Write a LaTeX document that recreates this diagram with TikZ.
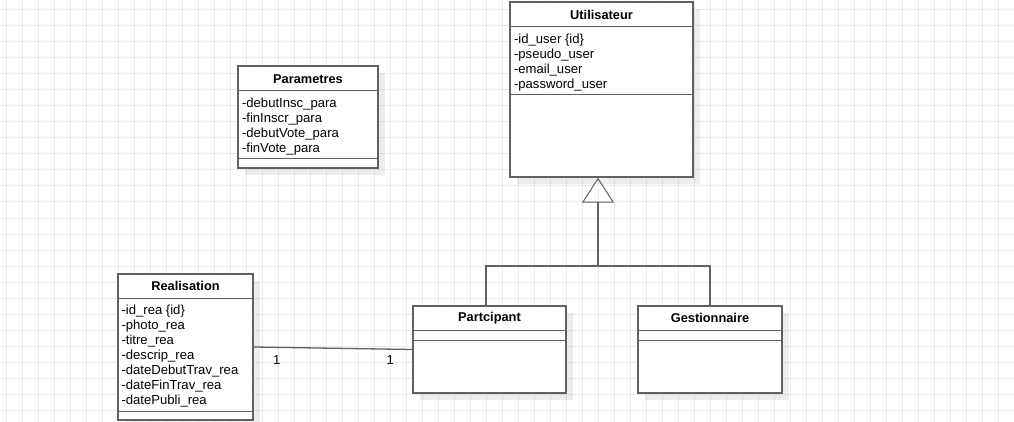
\documentclass[tikz,border=0pt]{standalone}
\usepackage{fontspec}
\setmainfont{Liberation Sans}
\usetikzlibrary{arrows.meta,shadows}

\tikzset{
  uml/.style={draw=black!62, line width=1.3pt},
  classbox/.style={uml, fill=white, rectangle, inner sep=0pt,
    general shadow={fill=black, opacity=0.07, shadow xshift=7pt, shadow yshift=-7pt}},
  title/.style={font=\fontsize{12.8}{15}\selectfont\bfseries, inner sep=0pt},
  attr/.style={anchor=west, inner sep=0pt, text height=9.6pt, text depth=2.8pt},
  mult/.style={inner sep=0pt}
}

\begin{document}
\begin{tikzpicture}[x=1pt, y=-1pt, font=\fontsize{13.1}{15}\selectfont]

 \useasboundingbox (0,0) rectangle (1014,422);
 \fill[white] (0,0) rectangle (1014,422);

 % grid
 \foreach \x in {6,22,...,1014}
    \draw[black!8, line width=1pt] (\x,0) -- (\x,422);
 \foreach \y in {10,26,...,422}
    \draw[black!8, line width=1pt] (0,\y) -- (1014,\y);

 % Utilisateur
 \node[classbox, minimum width=183pt, minimum height=175pt] (util) at (601.5,89.5) {};
 \node[title] (util-title) at ([yshift=-13.5pt]util.north) {Utilisateur};
 \draw[uml] ([yshift=-25pt]util.north west) -- ([yshift=-25pt]util.north east);
 \draw[uml] ([yshift=-93pt]util.north west) -- ([yshift=-93pt]util.north east);
 \foreach \i/\name in {0/{-id\_user \{id\}}, 1/-pseudo\_user, 2/-email\_user, 3/-password\_user}
    \node[attr] (util-a\i) at ([xshift=4.5pt, yshift=-38.5pt-15pt*\i]util.north west) {\name};

 % Parametres
 \node[classbox, minimum width=140pt, minimum height=102pt] (para) at (308,117) {};
 \node[title] (para-title) at ([yshift=-13.5pt]para.north) {Parametres};
 \draw[uml] ([yshift=-25pt]para.north west) -- ([yshift=-25pt]para.north east);
 \draw[uml] ([yshift=-93pt]para.north west) -- ([yshift=-93pt]para.north east);
 \foreach \i/\name in {0/-debutInsc\_para, 1/-finInscr\_para, 2/-debutVote\_para, 3/-finVote\_para}
    \node[attr] (para-a\i) at ([xshift=4.5pt, yshift=-38.5pt-15pt*\i]para.north west) {\name};

 % Realisation
 \node[classbox, minimum width=135pt, minimum height=146pt] (real) at (185.5,347) {};
 \node[title] (real-title) at ([yshift=-13pt]real.north) {Realisation};
 \draw[uml] ([yshift=-25pt]real.north west) -- ([yshift=-25pt]real.north east);
 \draw[uml] ([yshift=-138pt]real.north west) -- ([yshift=-138pt]real.north east);
 \foreach \i/\name in {0/{-id\_rea \{id\}}, 1/-photo\_rea, 2/-titre\_rea, 3/-descrip\_rea,
                       4/-dateDebutTrav\_rea, 5/-dateFinTrav\_rea, 6/-datePubli\_rea}
    \node[attr] (real-a\i) at ([xshift=4pt, yshift=-37.5pt-15pt*\i]real.north west) {\name};

 % Partcipant / Gestionnaire
 \foreach \cls/\cx/\w/\txt in {part/489.5/153/Partcipant, gest/710/144/Gestionnaire} {
    \node[classbox, minimum width=\w pt, minimum height=87pt] (\cls) at (\cx,349.5) {};
    \node[title] (\cls-title) at ([yshift=-13pt]\cls.north) {\txt};
    \draw[uml] ([yshift=-25pt]\cls.north west) -- ([yshift=-25pt]\cls.north east);
    \draw[uml] ([yshift=-35pt]\cls.north west) -- ([yshift=-35pt]\cls.north east);
 }

 % inheritance
 \coordinate (fork) at (598,266);
 \draw[uml] ([xshift=-3.5pt]part.north) |- (fork) -| (gest.north);
 \draw[uml, -{Triangle[open, width=32pt, length=25pt, line width=1pt]}] (fork) -- (fork |- util.south);

 % association
 \draw[uml] (real.east) -- (part.west);
 \node[mult] (m-real) at ([xshift=23pt, yshift=-13pt]real.east) {1};
 \node[mult] (m-part) at ([xshift=-22pt, yshift=-10.5pt]part.west) {1};

\end{tikzpicture}
\end{document}
